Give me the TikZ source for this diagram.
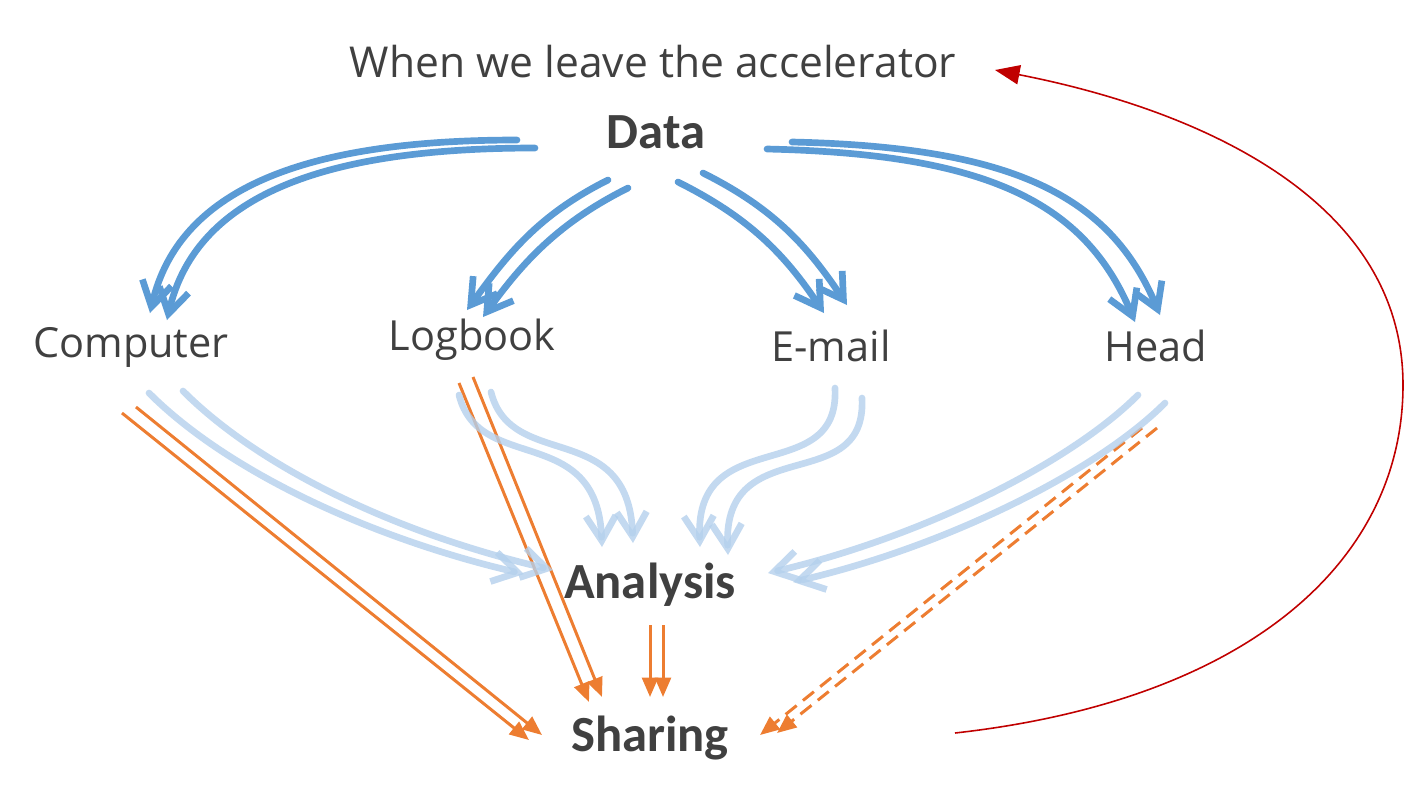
\documentclass[tikz,border=0pt]{standalone}
\usepackage{fontspec}
\setmainfont{Open Sans}
\newfontfamily\headfont{Carlito}
\usetikzlibrary{arrows.meta}
\definecolor{flowblue}{RGB}{91,155,213}
\definecolor{paleblue}{RGB}{180,208,236}
\definecolor{shareorange}{RGB}{237,125,49}
\definecolor{loopred}{RGB}{192,0,0}
\definecolor{inktext}{RGB}{64,64,64}
\tikzset{
  lbl/.style={text=inktext, inner sep=0pt, font=\fontsize{11.8}{14}\selectfont},
  blbl/.style={text=inktext, inner sep=0pt, font=\headfont\bfseries\fontsize{14.4}{17}\selectfont},
  blueline/.style={draw=flowblue, line width=1.9pt, line cap=round, -{Straight Barb[length=7pt,width=8.5pt]}},
  paleline/.style={draw=paleblue, opacity=0.8, line width=1.9pt, line cap=round, -{Straight Barb[length=7pt,width=8.5pt]}},
  orangeline/.style={draw=shareorange, line width=0.85pt, -{Triangle[length=5.5pt,width=4.5pt]}},
  orangedash/.style={orangeline, dash pattern=on 4pt off 2.3pt},
  redline/.style={draw=loopred, line width=0.45pt, -{Triangle[length=7pt,width=5.5pt]}, loopred}
}
\begin{document}
\begin{tikzpicture}[x=0.01cm, y=0.01cm]
\useasboundingbox (0,0) rectangle (1418,-802);

% texts
\node[lbl, font=\fontsize{12.1}{14}\selectfont] (title) at (653,-62) {When we leave the accelerator};
\node[blbl] (data) at (656,-132) {Data};
\node[lbl] (computer) at (131,-347) {Computer};
\node[lbl] (logbook) at (472,-340) {Logbook};
\node[lbl] (email) at (831,-346) {E-mail};
\node[lbl] (head) at (1156,-346) {Head};
\node[blbl] (analysis) at (650,-585) {Analysis};
\node[blbl] (sharing) at (650,-738) {Sharing};

% data goes out
\draw[blueline] ([shift={(-139,-8)}]data.center) .. controls +(-200,0) and +(30,130) .. ([shift={(19,34)}]computer.center);
\draw[blueline] ([shift={(-121,-16)}]data.center) .. controls +(-200,0) and +(30,130) .. ([shift={(36,27)}]computer.center);
\draw[blueline] ([shift={(-48,-48)}]data.center) .. controls +(-70,-35) and +(40,55) .. ([shift={(-5,30)}]logbook.center);
\draw[blueline] ([shift={(-28,-56)}]data.center) .. controls +(-70,-35) and +(40,55) .. ([shift={(11,23)}]logbook.center);
\draw[blueline] ([shift={(22,-50)}]data.center) .. controls +(70,-35) and +(-40,60) .. ([shift={(-7,33)}]email.center);
\draw[blueline] ([shift={(47,-41)}]data.center) .. controls +(70,-35) and +(-40,60) .. ([shift={(16,41)}]email.center);
\draw[blueline] ([shift={(111,-17)}]data.center) .. controls +(220,-5) and +(-50,120) .. ([shift={(-21,24)}]head.center);
\draw[blueline] ([shift={(136,-10)}]data.center) .. controls +(220,-5) and +(-50,120) .. ([shift={(4,31)}]head.center);

% to sharing
\draw[orangeline] ([shift={(-9,-66)}]computer.center) -- ([shift={(-121,-2)}]sharing.center);
\draw[orangeline] ([shift={(5,-60)}]computer.center) -- ([shift={(-108,3)}]sharing.center);
\draw[orangeline] ([shift={(-13,-43)}]logbook.center) -- ([shift={(-61,36)}]sharing.center);
\draw[orangeline] ([shift={(1,-37)}]logbook.center) -- ([shift={(-48,41)}]sharing.center);
\draw[orangeline] ([shift={(0,-40)}]analysis.center) -- ([shift={(0,41)}]sharing.center);
\draw[orangeline] ([shift={(13,-40)}]analysis.center) -- ([shift={(13,41)}]sharing.center);
\draw[orangedash] ([shift={(-14,-82)}]head.center) -- ([shift={(110,3)}]sharing.center);
\draw[orangedash] ([shift={(1,-82)}]head.center) -- ([shift={(127,5)}]sharing.center);

% to analysis
\draw[paleline] ([shift={(18,-46)}]computer.center) .. controls +(80,-80) and +(-150,35) .. ([shift={(-126,11)}]analysis.center);
\draw[paleline] ([shift={(52,-44)}]computer.center) .. controls +(80,-80) and +(-150,35) .. ([shift={(-97,15)}]analysis.center);
\draw[paleline] ([shift={(-13,-55)}]logbook.center) .. controls +(20,-80) and +(-5,125) .. ([shift={(-48,38)}]analysis.center);
\draw[paleline] ([shift={(19,-52)}]logbook.center) .. controls +(20,-80) and +(-5,125) .. ([shift={(-17,42)}]analysis.center);
\draw[paleline] ([shift={(4,-42)}]email.center) .. controls +(5,-100) and +(-5,125) .. ([shift={(50,38)}]analysis.center);
\draw[paleline] ([shift={(31,-52)}]email.center) .. controls +(5,-100) and +(-5,125) .. ([shift={(78,30)}]analysis.center);
\draw[paleline] ([shift={(-18,-49)}]head.center) .. controls +(-70,-70) and +(150,35) .. ([shift={(118,12)}]analysis.center);
\draw[paleline] ([shift={(9,-57)}]head.center) .. controls +(-70,-70) and +(150,35) .. ([shift={(143,3)}]analysis.center);

% back to the start
\draw[redline] ([shift={(305,5)}]sharing.center) .. controls +(295,33) and +(0,-175) .. (1403,-385)
  .. controls +(0,185) and +(205,-40) .. ([shift={(342,-8)}]title.center);
\end{tikzpicture}
\end{document}
